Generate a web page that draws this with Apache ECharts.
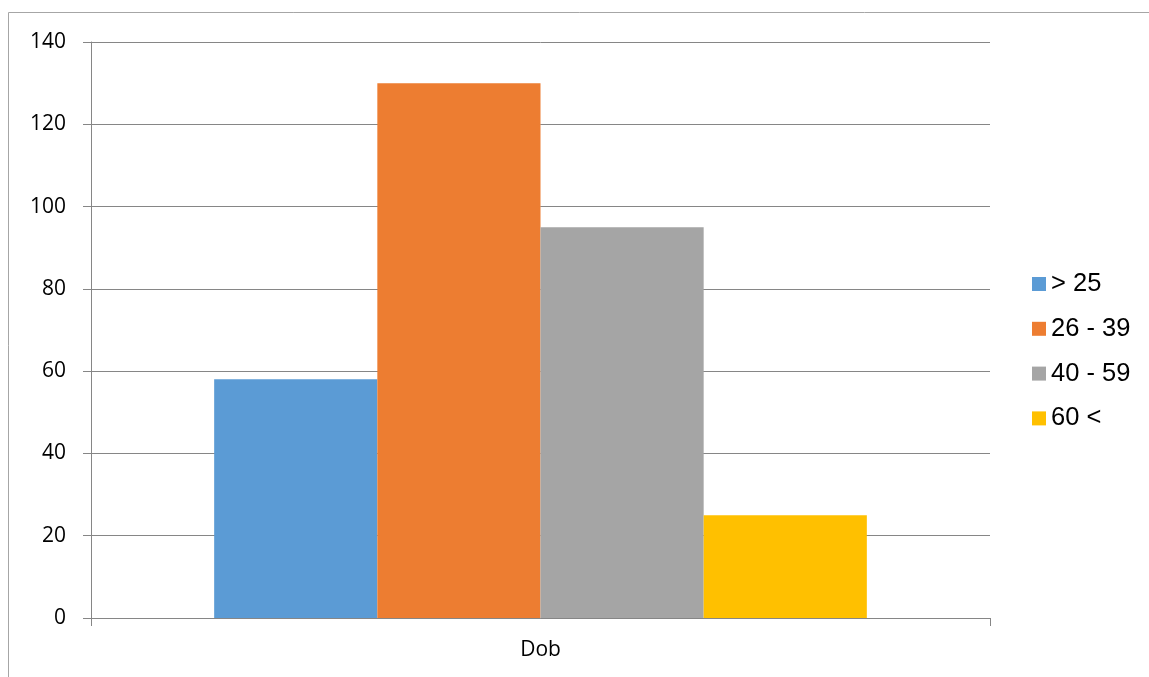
<!DOCTYPE html>
<html><head><meta charset="utf-8">
<script src="https://cdn.jsdelivr.net/npm/echarts@6/dist/echarts.min.js"></script>
<style>html,body{margin:0;padding:0;background:#fff}#c{width:1149px;height:677px}</style>
</head><body><div id="c"></div>
<script>
const categories = ['Dob'];
const seriesNames = ['> 25', '26 - 39', '40 - 59', '60 <'];
const seriesValues = [[58], [130], [95], [25]];
const colors = ['#5B9BD5', '#ED7D31', '#A5A5A5', '#FFC000'];
const yTicks = [0, 20, 40, 60, 80, 100, 120, 140];

const chart = echarts.init(document.getElementById('c'));
chart.setOption({
  animation: false,
  graphic: [{type:'rect', shape:{x:8.5,y:12.5,width:1300,height:800}, style:{fill:'none', stroke:'#A6A6A6', lineWidth:1}, silent:true}],
  grid: {left: 91, right: 159, top: 42, bottom: 59},
  legend: {
    orient: 'vertical', left: 1032, top: 271, itemWidth: 14, itemHeight: 14, itemGap: 18.8,
    icon: 'rect', padding: 0,
    textStyle: {fontFamily: 'Liberation Sans', fontSize: 25.5, color: '#000'},
    data: seriesNames
  },
  xAxis: {
    type: 'category', data: categories,
    axisLine: {lineStyle: {color: '#868686'}},
    axisTick: {show: true, length: 8, lineStyle: {color: '#868686'}},
    axisLabel: {fontFamily: 'Open Sans', fontSize: 21, color: '#000', margin: 22}
  },
  yAxis: {
    type: 'value', min: yTicks[0], max: yTicks[yTicks.length-1], interval: 20,
    axisLine: {show: true, lineStyle: {color: '#868686'}},
    axisTick: {show: true, length: 8, lineStyle: {color: '#868686'}},
    splitLine: {lineStyle: {color: '#868686'}},
    axisLabel: {fontFamily: 'Open Sans', fontSize: 21, color: '#000', margin: 25}
  },
  series: seriesNames.map((n, i) => ({
    name: n, type: 'bar', data: seriesValues[i],
    barCategoryGap: '27.4%', barGap: '0%',
    itemStyle: {color: colors[i]}
  }))
});
</script></body></html>
